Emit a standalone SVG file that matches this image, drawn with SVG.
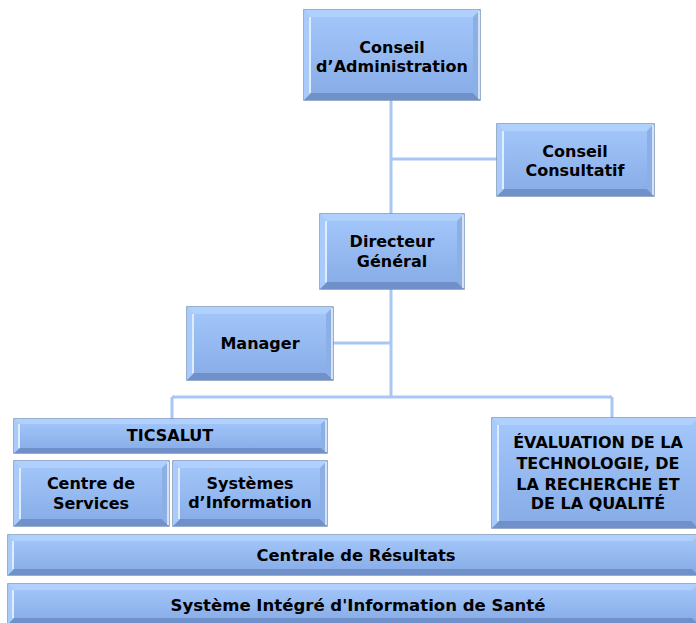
<svg xmlns="http://www.w3.org/2000/svg" width="696" height="623" viewBox="0 0 696 623">
<defs>
<linearGradient id="face" x1="0" y1="0" x2="0" y2="1">
<stop offset="0" stop-color="#a4c8fb"/>
<stop offset="1" stop-color="#86abe6"/>
</linearGradient>
<style>
.o{fill:url(#face);stroke:#7a93bb;stroke-width:1.5}
.bt{fill:#b0d0fd}
.bb{fill:#6f90c8}
.bl{fill:#a9cbfb}
.br{fill:#8cafe6}
.hl{stroke:#ffffff;stroke-width:1.5;opacity:0.85}
.t{font-family:"DejaVu Sans",Verdana,sans-serif;font-weight:bold;font-size:16px;fill:#000;text-anchor:middle}
.t2{font-family:"DejaVu Sans Condensed","DejaVu Sans",sans-serif;font-weight:bold;font-size:16px;fill:#000;text-anchor:middle}
.c{stroke:#a9c7f4;stroke-width:3;fill:none}
</style>
</defs>
<rect width="696" height="623" fill="#ffffff"/>
<g id="connectors">
<path class="c" d="M391,100 V214 M391,159 H497 M391,289 V397 M333,343 H391 M172,397 H612 M172,397 V419 M612,397 V418"/>
</g>
<g id="conseil-admin">
<rect class="o" x="304" y="10" width="176" height="90"/>
<polygon class="bt" points="304,10 480,10 473,17 311,17"/>
<polygon class="bb" points="304,100 480,100 473,93 311,93"/>
<polygon class="bl" points="304,10 311,17 311,93 304,100"/>
<polygon class="br" points="480,10 473,17 473,93 480,100"/>
<line class="hl" x1="310" y1="17" x2="310" y2="93"/>
<line class="hl" x1="479" y1="11" x2="479" y2="99"/>
<text class="t" x="392" y="53">Conseil</text>
<text class="t" x="392" y="72">d’Administration</text>
</g>
<g id="conseil-consultatif">
<rect class="o" x="497" y="124" width="157" height="72"/>
<polygon class="bt" points="497,124 654,124 647,131 504,131"/>
<polygon class="bb" points="497,196 654,196 647,189 504,189"/>
<polygon class="bl" points="497,124 504,131 504,189 497,196"/>
<polygon class="br" points="654,124 647,131 647,189 654,196"/>
<line class="hl" x1="503" y1="131" x2="503" y2="189"/>
<line class="hl" x1="653" y1="125" x2="653" y2="195"/>
<text class="t" x="575" y="157">Conseil</text>
<text class="t" x="575" y="176">Consultatif</text>
</g>
<g id="directeur">
<rect class="o" x="320" y="214" width="144" height="75"/>
<polygon class="bt" points="320,214 464,214 457,221 327,221"/>
<polygon class="bb" points="320,289 464,289 457,282 327,282"/>
<polygon class="bl" points="320,214 327,221 327,282 320,289"/>
<polygon class="br" points="464,214 457,221 457,282 464,289"/>
<line class="hl" x1="326" y1="221" x2="326" y2="282"/>
<line class="hl" x1="463" y1="215" x2="463" y2="288"/>
<text class="t" x="392" y="247">Directeur</text>
<text class="t" x="392" y="267">Général</text>
</g>
<g id="manager">
<rect class="o" x="187" y="307" width="146" height="73"/>
<polygon class="bt" points="187,307 333,307 326,314 194,314"/>
<polygon class="bb" points="187,380 333,380 326,373 194,373"/>
<polygon class="bl" points="187,307 194,314 194,373 187,380"/>
<polygon class="br" points="333,307 326,314 326,373 333,380"/>
<line class="hl" x1="193" y1="314" x2="193" y2="373"/>
<line class="hl" x1="332" y1="308" x2="332" y2="379"/>
<text class="t" x="260" y="349">Manager</text>
</g>
<g id="ticsalut">
<rect class="o" x="14" y="419" width="313" height="34"/>
<polygon class="bt" points="14,419 327,419 321,424 20,424"/>
<polygon class="bb" points="14,453 327,453 321,448 20,448"/>
<polygon class="bl" points="14,419 20,424 20,448 14,453"/>
<polygon class="br" points="327,419 321,424 321,448 327,453"/>
<line class="hl" x1="19" y1="424" x2="19" y2="448"/>
<line class="hl" x1="326" y1="420" x2="326" y2="452"/>
<text class="t" x="170" y="441">TICSALUT</text>
</g>
<g id="centre-services">
<rect class="o" x="14" y="461" width="155" height="65"/>
<polygon class="bt" points="14,461 169,461 162,468 21,468"/>
<polygon class="bb" points="14,526 169,526 162,519 21,519"/>
<polygon class="bl" points="14,461 21,468 21,519 14,526"/>
<polygon class="br" points="169,461 162,468 162,519 169,526"/>
<line class="hl" x1="20" y1="468" x2="20" y2="519"/>
<line class="hl" x1="168" y1="462" x2="168" y2="525"/>
<text class="t" x="91" y="489">Centre de</text>
<text class="t" x="91" y="509">Services</text>
</g>
<g id="systemes-information">
<rect class="o" x="173" y="461" width="154" height="65"/>
<polygon class="bt" points="173,461 327,461 320,468 180,468"/>
<polygon class="bb" points="173,526 327,526 320,519 180,519"/>
<polygon class="bl" points="173,461 180,468 180,519 173,526"/>
<polygon class="br" points="327,461 320,468 320,519 327,526"/>
<line class="hl" x1="179" y1="468" x2="179" y2="519"/>
<line class="hl" x1="326" y1="462" x2="326" y2="525"/>
<text class="t" x="250" y="489">Systèmes</text>
<text class="t" x="250" y="508">d’Information</text>
</g>
<g id="evaluation">
<rect class="o" x="492" y="418" width="206" height="110"/>
<polygon class="bt" points="492,418 698,418 691,425 499,425"/>
<polygon class="bb" points="492,528 698,528 691,521 499,521"/>
<polygon class="bl" points="492,418 499,425 499,521 492,528"/>
<line class="hl" x1="498" y1="425" x2="498" y2="521"/>
<text class="t" x="598" y="448">ÉVALUATION DE LA</text>
<text class="t" x="598" y="469">TECHNOLOGIE, DE</text>
<text class="t" x="598" y="490">LA RECHERCHE ET</text>
<text class="t" x="598" y="509">DE LA QUALITÉ</text>
</g>
<g id="centrale-resultats">
<rect class="o" x="8" y="535" width="690" height="40"/>
<polygon class="bt" points="8,535 698,535 692,541 14,541"/>
<polygon class="bb" points="8,575 698,575 692,569 14,569"/>
<polygon class="bl" points="8,535 14,541 14,569 8,575"/>
<line class="hl" x1="13" y1="541" x2="13" y2="569"/>
<text class="t2" x="356" y="561" textLength="199" lengthAdjust="spacingAndGlyphs">Centrale de Résultats</text>
</g>
<g id="systeme-integre">
<rect class="o" x="8" y="584" width="690" height="40"/>
<polygon class="bt" points="8,584 698,584 692,590 14,590"/>
<polygon class="bb" points="8,624 698,624 692,618 14,618"/>
<polygon class="bl" points="8,584 14,590 14,618 8,624"/>
<line class="hl" x1="13" y1="590" x2="13" y2="618"/>
<text class="t2" x="358" y="611" textLength="375" lengthAdjust="spacingAndGlyphs">Système Intégré d'Information de Santé</text>
</g>
</svg>
